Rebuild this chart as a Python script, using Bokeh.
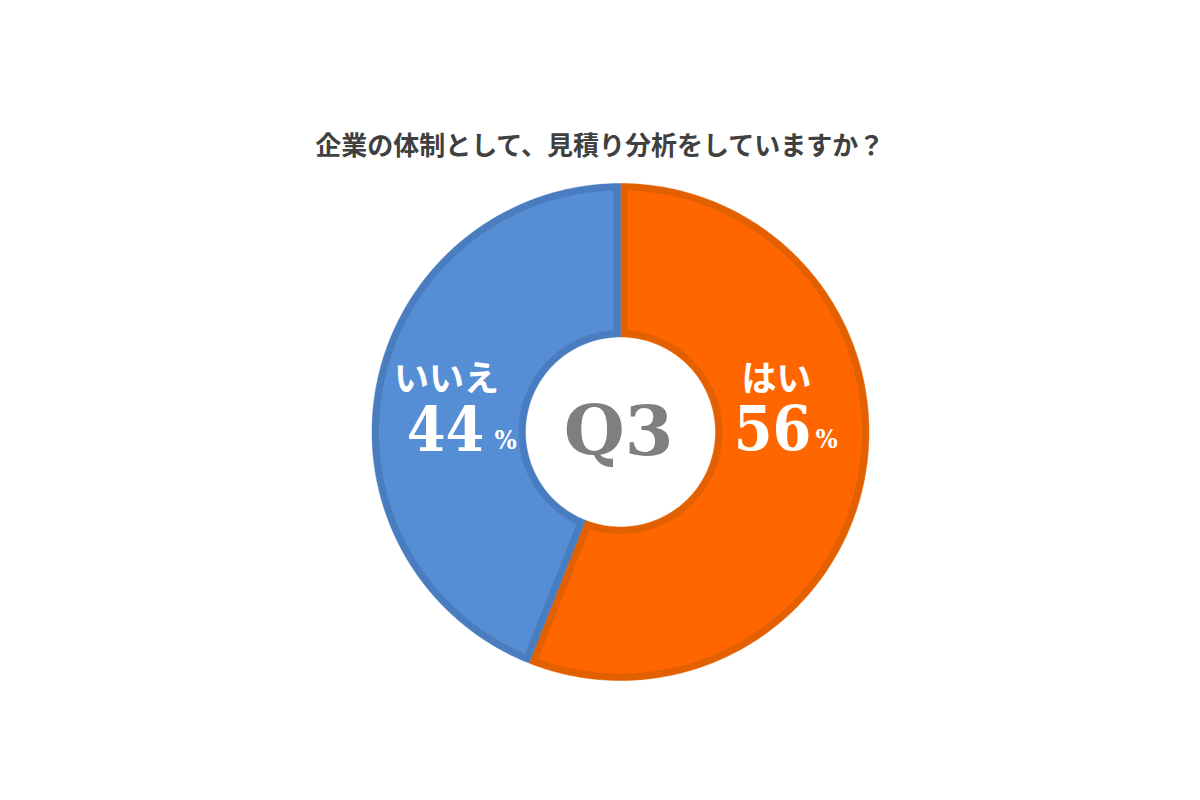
import numpy as np
from bokeh.plotting import figure
from bokeh.models import Range1d
from bokeh.core.properties import value
from bokeh.embed import file_html
from bokeh.resources import INLINE

# ---- data ----
title = "企業の体制として、見積り分析をしていますか？"
categories = ["はい", "いいえ"]
percents = [56, 44]
fill_colors = ["#FF6600", "#558ED5"]
edge_colors = ["#E26000", "#4A7DC0"]
center_label = "Q3"

# ---- geometry (pixel-like data units, y up) ----
W, H = 1184, 784
p = figure(width=W, height=H, output_backend="svg", toolbar_location=None,
           x_range=Range1d(0, W), y_range=Range1d(800 - H, 800),
           min_border=0, outline_line_color=None)
p.axis.visible = False
p.grid.visible = False
p.background_fill_color = "white"

cx, cy = 620, 800 - 431.5
R, r = 248.5, 95
b = 7


def sector(a1, a2, ro, ri, dout=0.0, din=0.0):
    t_out = np.linspace(a1 - dout, a2 + dout, 200)
    t_in = np.linspace(a2 + din, a1 - din, 120)
    xs = np.concatenate([cx + ro * np.cos(t_out), cx + ri * np.cos(t_in)])
    ys = np.concatenate([cy + ro * np.sin(t_out), cy + ri * np.sin(t_in)])
    return xs, ys


total = sum(percents)
start = np.pi / 2
for pct, fc, ec in zip(percents, fill_colors, edge_colors):
    end = start - 2 * np.pi * pct / total
    xs, ys = sector(start, end, R, r)
    p.patch(xs, ys, fill_color=ec, line_color=ec, line_width=0.5)
    xs2, ys2 = sector(start, end, R - b, r + b,
                      np.arcsin(b / (R - b)), np.arcsin(b / (r + b)))
    p.patch(xs2, ys2, fill_color=fc, line_color=None)
    start = end

# ---- texts ----
p.text(x=[600], y=[800 - 143], text=[title], text_font=value("Noto Sans CJK JP"),
       text_font_style="bold", text_font_size="26px", text_color="#404040",
       text_align="center", text_baseline="middle")

p.text(x=[618], y=[800 - 430], text=[center_label], text_font=value("DejaVu Serif"),
       text_font_style="bold", text_font_size="70px", text_color="#7F7F7F",
       text_align="center", text_baseline="middle")

# category names
p.text(x=[776, 446], y=[800 - 375, 800 - 375], text=categories,
       text_font=value("Noto Sans CJK JP"), text_font_style="bold",
       text_font_size="35px", text_color="white",
       text_align="center", text_baseline="middle")

# percentages: large numbers + small % sign
num_x = [772, 445]
pct_x = [826, 505]
p.text(x=num_x, y=[800 - 427, 800 - 428], text=[str(v) for v in percents],
       text_font=value("DejaVu Serif Condensed"), text_font_style="bold",
       text_font_size="62px", text_color="white",
       text_align="center", text_baseline="middle")
p.text(x=pct_x, y=[800 - 438, 800 - 439], text=["%", "%"],
       text_font=value("DejaVu Serif Condensed"), text_font_style="bold",
       text_font_size="26px", text_color="white",
       text_align="center", text_baseline="middle")

open("out.html", "w").write(file_html(p, INLINE))
